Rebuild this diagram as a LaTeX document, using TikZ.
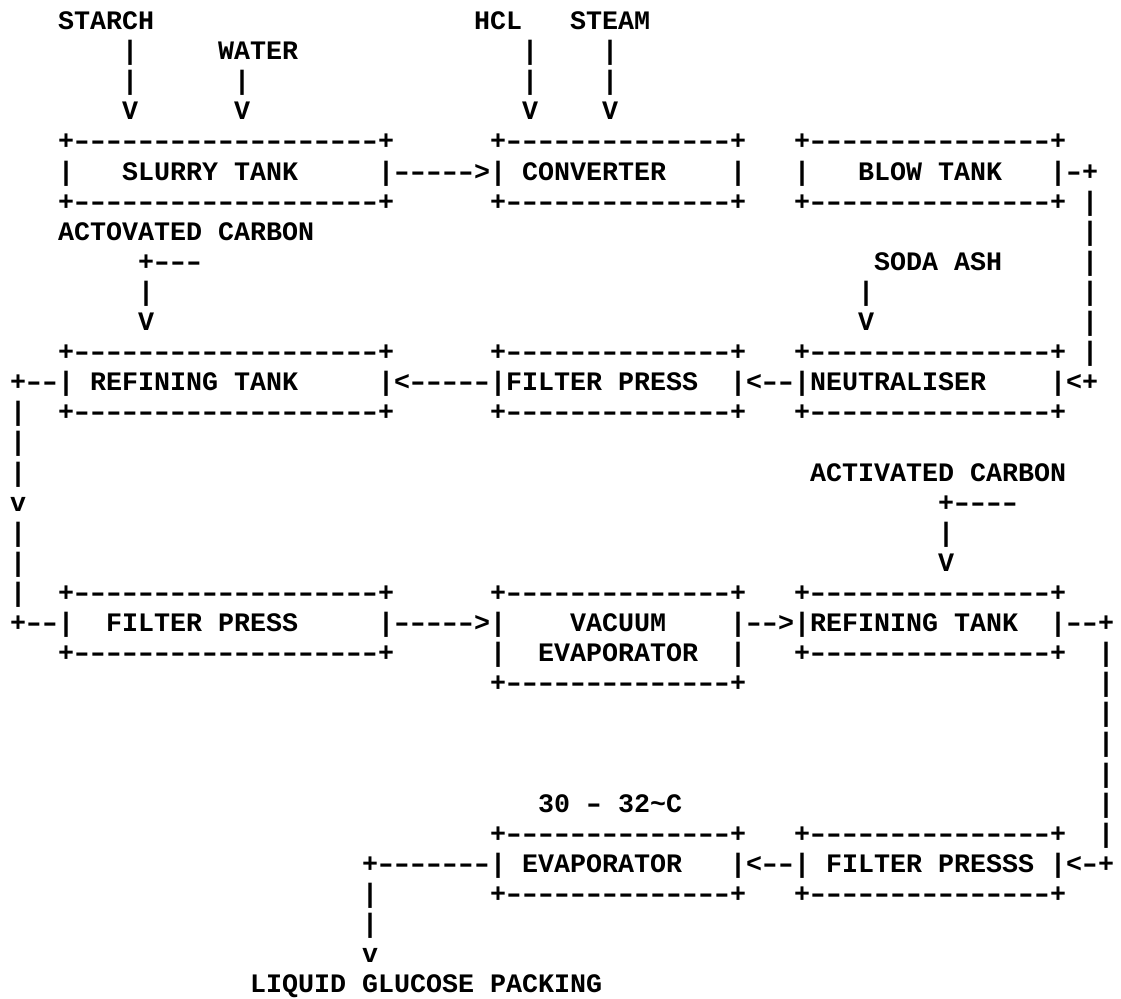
\documentclass[tikz,border=0pt]{standalone}
\usepackage{graphicx}
\usepackage{fontspec}
\setmonofont{Liberation Mono}

% one character cell is 16pt wide, one text line 30.1pt high
\tikzset{
  asc/.style={font=\ttfamily\bfseries\fontsize{26.67pt}{30.1pt}\selectfont,
    inner sep=0pt, outer sep=0pt, anchor=base west}
}
\newcommand{\hy}{\makebox[16pt]{\scalebox{1.45}[1]{-}}}
\newcommand{\tankedge}[1]{+\foreach \i in {1,...,#1}{\hy}+}

\begin{document}
\begin{tikzpicture}[x=16pt, y=-30.1pt]
  \fill[white] (0pt,0pt) rectangle (1121pt,-998pt);
  \useasboundingbox (0pt,0pt) rectangle (1121pt,-998pt);
  \begin{scope}[shift={(10pt,-29.5pt)}]
    % feeds at the top
    \node[asc] (starch) at (3,0) {STARCH};
    \node[asc] (hcl) at (29,0) {HCL};
    \node[asc] (steam) at (35,0) {STEAM};
    \node[asc] (water) at (13,1) {WATER};
    \foreach \c in {7,32,37} {
      \node[asc] (feedA\c) at (\c,1) {|};
      \node[asc] (feedB\c) at (\c,2) {|};
      \node[asc] (feedV\c) at (\c,3) {V};
    }
    \node[asc] (waterB) at (14,2) {|};
    \node[asc] (waterV) at (14,3) {V};

    % first row of tanks
    \node[asc] (slurryT) at (3,4) {\tankedge{19}};
    \node[asc] (convT) at (30,4) {\tankedge{14}};
    \node[asc] (blowT) at (49,4) {\tankedge{15}};
    \node[asc] (slurryL) at (3,5) {|};
    \node[asc] (slurry) at (7,5) {SLURRY TANK};
    \node[asc] (slurry2conv) at (23,5) {|\hy\hy\hy\hy\hy>|};
    \node[asc] (conv) at (32,5) {CONVERTER};
    \node[asc] (convR) at (45,5) {|};
    \node[asc] (blowL) at (49,5) {|};
    \node[asc] (blow) at (53,5) {BLOW TANK};
    \node[asc] (blowout) at (65,5) {|\hy+};
    \node[asc] (slurryB) at (3,6) {\tankedge{19}};
    \node[asc] (convB) at (30,6) {\tankedge{14}};
    \node[asc] (blowB) at (49,6) {\tankedge{15}};
    \foreach \r in {6,...,11}
      \node[asc] (blowdown\r) at (67,\r) {|};

    \node[asc] (carbonA) at (3,7) {ACTOVATED CARBON};
    \node[asc] (carbonAT) at (8,8) {+\hy\hy\hy};
    \node[asc] (carbonAB) at (8,9) {|};
    \node[asc] (carbonAV) at (8,10) {V};
    \node[asc] (soda) at (54,8) {SODA ASH};
    \node[asc] (sodaB) at (53,9) {|};
    \node[asc] (sodaV) at (53,10) {V};

    % second row of tanks
    \node[asc] (refAT) at (3,11) {\tankedge{19}};
    \node[asc] (fpAT) at (30,11) {\tankedge{14}};
    \node[asc] (neutT) at (49,11) {\tankedge{15}};
    \node[asc] (refAout) at (0,12) {+\hy\hy|};
    \node[asc] (refA) at (5,12) {REFINING TANK};
    \node[asc] (fpA2refA) at (23,12) {|<\hy\hy\hy\hy\hy|};
    \node[asc] (fpA) at (31,12) {FILTER PRESS};
    \node[asc] (neut2fpA) at (45,12) {|<\hy\hy|};
    \node[asc] (neut) at (50,12) {NEUTRALISER};
    \node[asc] (neutin) at (65,12) {|<+};
    \node[asc] (refAB) at (3,13) {\tankedge{19}};
    \node[asc] (fpAB) at (30,13) {\tankedge{14}};
    \node[asc] (neutB) at (49,13) {\tankedge{15}};
    \foreach \r/\t in {13/|,14/|,15/|,16/v,17/|,18/|,19/|}
      \node[asc] (leftdown\r) at (0,\r) {\t};

    \node[asc] (carbonB) at (50,15) {ACTIVATED CARBON};
    \node[asc] (carbonBT) at (58,16) {+\hy\hy\hy\hy};
    \node[asc] (carbonBB) at (58,17) {|};
    \node[asc] (carbonBV) at (58,18) {V};

    % third row of tanks
    \node[asc] (fpBT) at (3,19) {\tankedge{19}};
    \node[asc] (vacT) at (30,19) {\tankedge{14}};
    \node[asc] (refBT) at (49,19) {\tankedge{15}};
    \node[asc] (fpBin) at (0,20) {+\hy\hy|};
    \node[asc] (fpB) at (6,20) {FILTER PRESS};
    \node[asc] (fpB2vac) at (23,20) {|\hy\hy\hy\hy\hy>|};
    \node[asc] (vac) at (35,20) {VACUUM};
    \node[asc] (vac2refB) at (45,20) {|\hy\hy>|};
    \node[asc] (refB) at (50,20) {REFINING TANK};
    \node[asc] (refBout) at (65,20) {|\hy\hy+};
    \node[asc] (fpBB) at (3,21) {\tankedge{19}};
    \node[asc] (vacL) at (30,21) {|};
    \node[asc] (vacE) at (33,21) {EVAPORATOR};
    \node[asc] (vacR) at (45,21) {|};
    \node[asc] (refBB) at (49,21) {\tankedge{15}};
    \node[asc] (vacB) at (30,22) {\tankedge{14}};
    \foreach \r in {21,...,27}
      \node[asc] (rightdown\r) at (68,\r) {|};

    % last row
    \node[asc] (temp) at (33,26) {30 \hy{} 32\textasciitilde C};
    \node[asc] (evapT) at (30,27) {\tankedge{14}};
    \node[asc] (fpCT) at (49,27) {\tankedge{15}};
    \node[asc] (evapout) at (22,28) {+\hy\hy\hy\hy\hy\hy\hy|};
    \node[asc] (evap) at (32,28) {EVAPORATOR};
    \node[asc] (fpC2evap) at (45,28) {|<\hy\hy|};
    \node[asc] (fpC) at (51,28) {FILTER PRESSS};
    \node[asc] (fpCin) at (65,28) {|<\hy+};
    \node[asc] (evapB) at (30,29) {\tankedge{14}};
    \node[asc] (fpCB) at (49,29) {\tankedge{15}};
    \node[asc] (packA) at (22,29) {|};
    \node[asc] (packB) at (22,30) {|};
    \node[asc] (packV) at (22,31) {v};
    \node[asc] (packing) at (15,32) {LIQUID GLUCOSE PACKING};
  \end{scope}
\end{tikzpicture}
\end{document}
